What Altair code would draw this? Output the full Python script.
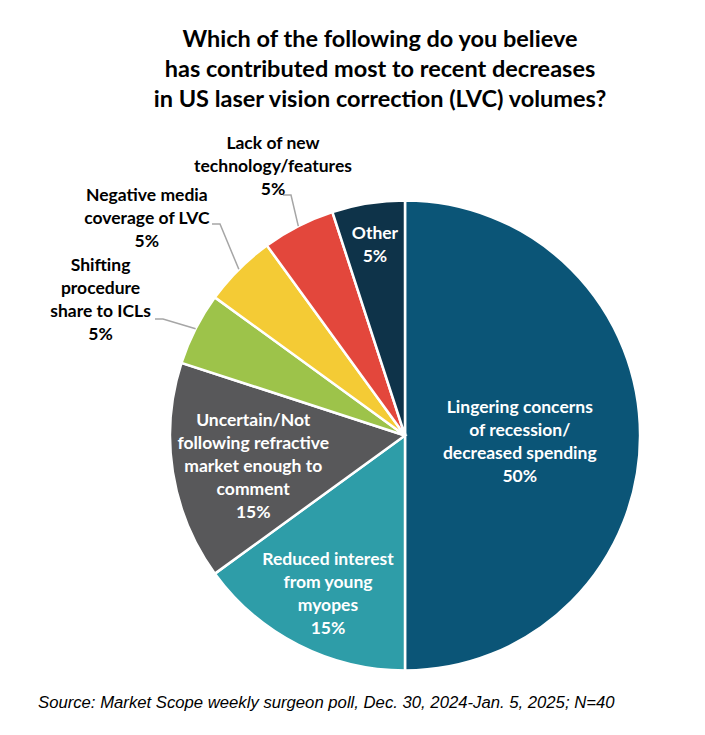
import math
import altair as alt
import pandas as pd

# ---- data ----
categories = [
    "Lingering concerns\nof recession/\ndecreased spending",
    "Reduced interest\nfrom young\nmyopes",
    "Uncertain/Not\nfollowing refractive\nmarket enough to\ncomment",
    "Shifting\nprocedure\nshare to ICLs",
    "Negative media\ncoverage of LVC",
    "Lack of new\ntechnology/features",
    "Other",
]
values = [50, 15, 15, 5, 5, 5, 5]
colors = ["#0b5577", "#2e9da8", "#58585a", "#9dc34a", "#f4cb35", "#e3473c", "#0e3349"]

title_text = ("Which of the following do you believe\n"
              "has contributed most to recent decreases\n"
              "in US laser vision correction (LVC) volumes?")
source_text = "Source: Market Scope weekly surgeon poll, Dec. 30, 2024-Jan. 5, 2025; N=40"

# ---- layout ----
W, H = 689, 719
CX, CY, R = 397, 427.5, 235
LH = 23
label_dtheta = [3.5, -1.2, -2.7, -3.1, -5.0, 0.8, 0.0]
label_r = [115, 177, 155, 333, 337, 299, 192]
inside = [True, True, True, False, False, False, True]
leader_start = {3: (147, 311), 4: (204, 216), 5: (275, 187)}
ELBOW = 8

total = sum(values)
labels = [f"{c}\n{round(v / total * 100)}%" for c, v in zip(categories, values)]

df = pd.DataFrame({"cat": categories, "value": values, "idx": list(range(len(values)))})

# mid angles of slices (clockwise from 12 o'clock)
mids = []
acc = 0
for v in values:
    mids.append((acc + v / 2) / total * 360)
    acc += v

lab_rows = []
for i, (lab, m) in enumerate(zip(labels, mids)):
    a = math.radians(m + label_dtheta[i])
    n = lab.count("\n") + 1
    lab_rows.append({
        "label": lab,
        "px": CX + label_r[i] * math.sin(a),
        # first-line position so that the block is centred on the anchor
        "py": CY - label_r[i] * math.cos(a) - (n - 1) * LH / 2,
        "inside": inside[i],
    })
lab_df = pd.DataFrame(lab_rows)

line_rows = []
for i, (sx, sy) in leader_start.items():
    a = math.radians(mids[i])
    ex, ey = CX + R * math.sin(a), CY - R * math.cos(a)
    pts = [(sx, sy), (sx + ELBOW, sy), (ex, ey)]
    for k, (x, y) in enumerate(pts):
        line_rows.append({"id": i, "k": k, "px": x, "py": y})
line_df = pd.DataFrame(line_rows)

xs = alt.Scale(domain=[0, W], range=[0, W])
ys = alt.Scale(domain=[0, H], range=[0, H])

pie = alt.Chart(df).mark_arc(radius=R, stroke="white", strokeWidth=2.5).encode(
    theta=alt.Theta("value:Q", stack=True),
    order=alt.Order("idx:Q"),
    color=alt.Color("cat:N", scale=alt.Scale(domain=categories, range=colors), legend=None),
    x=alt.value(CX),
    y=alt.value(CY),
)

leaders = alt.Chart(line_df).mark_line(color="#a6a6a6", strokeWidth=1.5).encode(
    x=alt.X("px:Q", scale=xs, axis=None),
    y=alt.Y("py:Q", scale=ys, axis=None),
    detail="id:N",
    order="k:Q",
)

def label_layer(frame, col):
    return alt.Chart(frame).mark_text(
        font="Lato", fontWeight="bold", fontSize=17.5, lineHeight=LH,
        lineBreak="\n", align="center", baseline="middle", color=col,
    ).encode(
        x=alt.X("px:Q", scale=xs, axis=None),
        y=alt.Y("py:Q", scale=ys, axis=None),
        text="label:N",
    )

text_in = label_layer(lab_df[lab_df["inside"]], "white")
text_out = label_layer(lab_df[~lab_df["inside"]], "black")

title = alt.Chart(pd.DataFrame({"t": [title_text]})).mark_text(
    font="Lato", fontWeight="bold", fontSize=23.5, lineHeight=30,
    lineBreak="\n", align="center", baseline="middle", color="black",
).encode(x=alt.value(372), y=alt.value(32), text="t:N")

source = alt.Chart(pd.DataFrame({"t": [source_text]})).mark_text(
    font="Liberation Sans", fontStyle="italic", fontSize=16.7,
    align="left", baseline="middle", color="black",
).encode(x=alt.value(30), y=alt.value(695), text="t:N")

chart = alt.layer(pie, leaders, text_in, text_out, title, source).properties(
    width=W, height=H, padding=0, background="white",
    autosize=alt.AutoSizeParams(type="none"),
).configure_view(stroke=None)

chart.save("out.html", embed_options={"renderer": "svg", "actions": False})
